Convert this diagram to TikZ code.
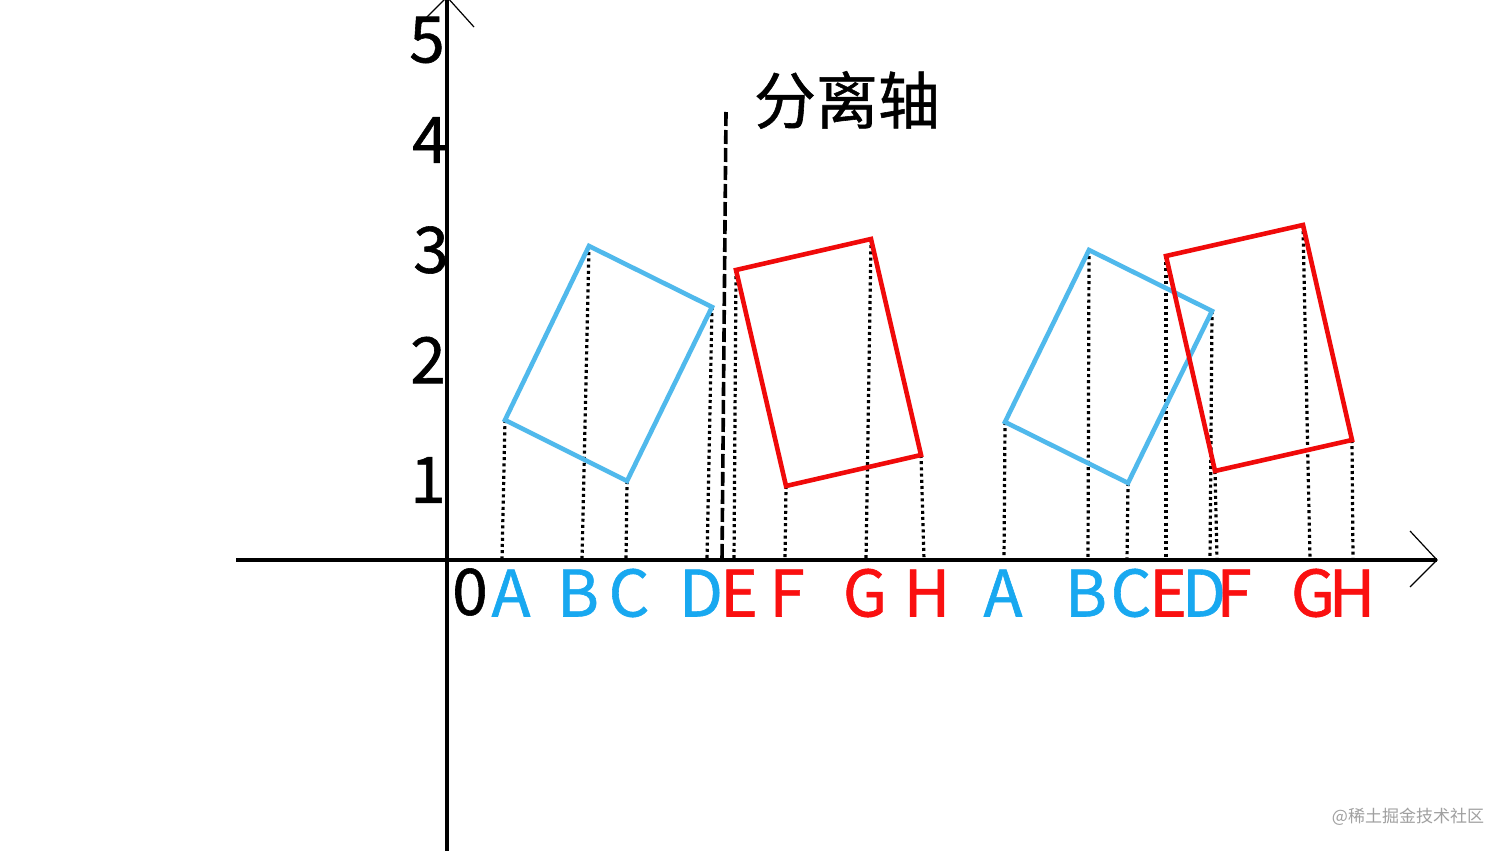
\documentclass[tikz,border=0pt]{standalone}
\usepackage{fontspec}
\newfontfamily\cjk[FakeBold=0.9]{Noto Sans CJK SC}
\newfontfamily\cjkwm{Noto Sans CJK SC}
\definecolor{lblue}{RGB}{80,185,236}
\definecolor{tblue}{RGB}{24,168,240}
\definecolor{lred}{RGB}{240,10,10}
\definecolor{tred}{RGB}{250,16,16}
\definecolor{wm}{RGB}{160,160,160}
\begin{document}
\begin{tikzpicture}[x=1pt,y=-1pt,
  lbl/.style={font=\cjk\fontsize{64}{64}\selectfont, inner sep=0pt, anchor=center},
  axisline/.style={line width=3.6pt, black},
  arrowline/.style={line width=1.2pt, black},
  sepline/.style={line width=3.6pt, black, dash pattern=on 14pt off 4pt},
  proj/.style={line width=3.2pt, black, dash pattern=on 3pt off 3.2pt},
  bluebox/.style={line width=4.6pt, lblue, line join=miter},
  redbox/.style={line width=4.6pt, lred, line join=miter}]
\useasboundingbox (0,0) rectangle (1512,851);
\fill[white] (0,0) rectangle (1512,851);
% axes
\coordinate (ytop) at (447,-3);
\coordinate (ybot) at (447,851);
\coordinate (xl) at (236,560);
\coordinate (xr) at (1437,560);
\draw[axisline] (ybot) -- (ytop);
\draw[axisline] (xl) -- (xr);
\coordinate (yal) at (420,24);
\coordinate (yar) at (474,27);
\draw[arrowline] (yal) -- (ytop) -- (yar);
\coordinate (xau) at (1410,531);
\coordinate (xad) at (1410,587);
\draw[arrowline] (xau) -- (xr) -- (xad);
% y labels
\node[lbl] (y5) at (427,40) {5};
\node[lbl] (y4) at (430,140) {4};
\node[lbl] (y3) at (431,250) {3};
\node[lbl] (y2) at (428,360) {2};
\node[lbl] (y1) at (428,480) {1};
\node[lbl] (y0) at (470,592) {0};
% separating axis
\coordinate (st) at (726,112);
\coordinate (sb) at (722,560);
\draw[sepline] (st) -- (sb);
\node[lbl, font=\cjk\fontsize{62}{62}\selectfont] (septxt) at (847,100) {分离轴};
% first pair
\coordinate (A1) at (505,420);
\coordinate (B1) at (589,246);
\coordinate (D1) at (712,307);
\coordinate (C1) at (627,481);
\coordinate (E1) at (736,270);
\coordinate (G1) at (871,239);
\coordinate (H1) at (921,455);
\coordinate (F1) at (786,486);
% second pair
\coordinate (A2) at (1005,422);
\coordinate (B2) at (1089,250);
\coordinate (D2) at (1212,311);
\coordinate (C2) at (1128,483);
\coordinate (E2) at (1166,256);
\coordinate (G2) at (1303,225);
\coordinate (H2) at (1352,440);
\coordinate (F2) at (1215,471);
% projection feet
\coordinate (pA1) at (502,560);
\coordinate (pB1) at (582,560);
\coordinate (pC1) at (626,560);
\coordinate (pD1) at (707,560);
\coordinate (pE1) at (734,560);
\coordinate (pF1) at (785,560);
\coordinate (pG1) at (866,560);
\coordinate (pH1) at (924,560);
\coordinate (pA2) at (1004,560);
\coordinate (pB2) at (1088,560);
\coordinate (pC2) at (1127,560);
\coordinate (pE2) at (1166,560);
\coordinate (pD2) at (1210,560);
\coordinate (pF2) at (1217,560);
\coordinate (pG2) at (1310,560);
\coordinate (pH2) at (1353,560);
% projections
\foreach \v in {A1,B1,C1,D1,E1,F1,G1,H1,A2,B2,C2,D2,E2,F2,G2,H2}
  \draw[proj] (\v) -- (p\v);
% boxes
\draw[bluebox] (A1) -- (B1) -- (D1) -- (C1) -- cycle;
\draw[redbox] (E1) -- (G1) -- (H1) -- (F1) -- cycle;
\draw[bluebox] (A2) -- (B2) -- (D2) -- (C2) -- cycle;
\draw[redbox] (E2) -- (G2) -- (H2) -- (F2) -- cycle;
% x labels
\node[lbl, text=tblue] (lA1) at (511,593) {A};
\node[lbl, text=tblue] (lB1) at (578,593) {B};
\node[lbl, text=tblue] (lC1) at (629,593) {C};
\node[lbl, text=tblue] (lD1) at (701,593) {D};
\node[lbl, text=tred] (lE1) at (739,593) {E};
\node[lbl, text=tred] (lF1) at (787,593) {F};
\node[lbl, text=tred] (lG1) at (865,593) {G};
\node[lbl, text=tred] (lH1) at (927,593) {H};
\node[lbl, text=tblue] (lA2) at (1003,593) {A};
\node[lbl, text=tblue] (lB2) at (1086,593) {B};
\node[lbl, text=tblue] (lC2) at (1131,593) {C};
\node[lbl, text=tred] (lE2) at (1168,593) {E};
\node[lbl, text=tblue] (lD2) at (1204,593) {D};
\node[lbl, text=tred] (lF2) at (1234,593) {F};
\node[lbl, text=tred] (lG2) at (1313,593) {G};
\node[lbl, text=tred] (lH2) at (1352,593) {H};
% watermark
\node[font=\cjkwm\fontsize{17}{17}\selectfont, text=wm, inner sep=0pt] (wmk) at (1408,817) {@稀土掘金技术社区};
\end{tikzpicture}
\end{document}
